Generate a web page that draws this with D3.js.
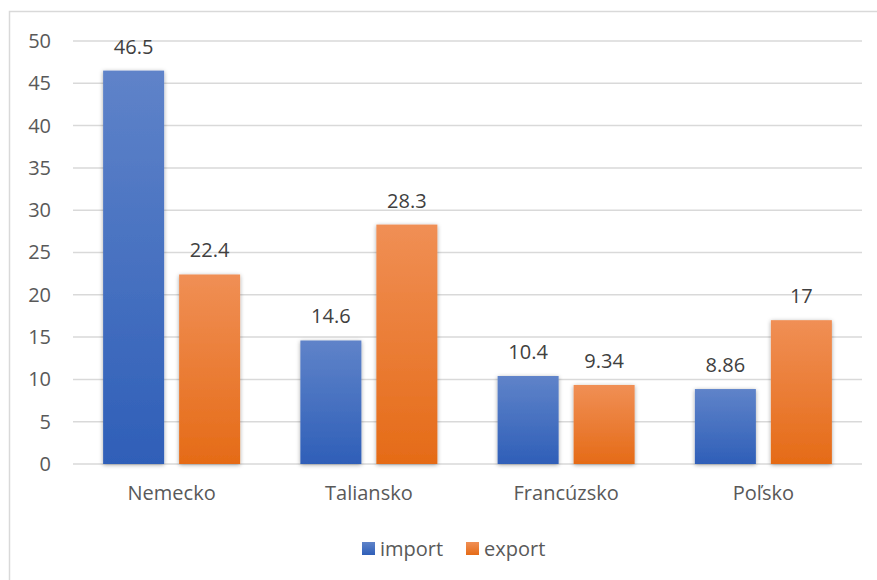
<!DOCTYPE html>
<html><head><meta charset="utf-8">
<script src="https://cdn.jsdelivr.net/npm/d3@7"></script>
<style>body{margin:0;background:#fff;} svg{display:block;font-family:"Open Sans","Liberation Sans",sans-serif;}</style>
</head><body>
<svg id="c" width="877" height="580"></svg>
<script>
const categories = ["Nemecko","Taliansko","Francúzsko","Poľsko"];
const seriesNames = ["import","export"];
const importValues = [46.5,14.6,10.4,8.86];
const exportValues = [22.4,28.3,9.34,17];
const yTicks = [0,5,10,15,20,25,30,35,40,45,50];

const FS = 20;
const svg = d3.select("#c");
const defs = svg.append("defs");
const grads = [["gImp","#5f83c9","#2f5fb8"],["gExp","#f08f55","#e56b17"]];
grads.forEach(([id,a,b])=>{
  const g = defs.append("linearGradient").attr("id",id).attr("x1",0).attr("y1",0).attr("x2",0).attr("y2",1);
  g.append("stop").attr("offset","0%").attr("stop-color",a);
  g.append("stop").attr("offset","100%").attr("stop-color",b);
});
const f = defs.append("filter").attr("id","sh").attr("x","-30%").attr("y","-10%").attr("width","160%").attr("height","130%");
f.append("feDropShadow").attr("dx",0).attr("dy",1).attr("stdDeviation",2.2).attr("flood-color","#000").attr("flood-opacity",0.35);

svg.append("rect").attr("x",9.5).attr("y",11.5).attr("width",900).attr("height",600)
  .attr("fill","none").attr("stroke","#d9d9d9").attr("stroke-width",1.5);

const x0 = d3.scaleBand().domain(categories).range([73,862]);
const y = d3.scaleLinear().domain([0,50]).range([464,41]);

svg.append("g").selectAll("line").data(yTicks).join("line")
  .attr("x1",73).attr("x2",862).attr("y1",d=>y(d)).attr("y2",d=>y(d))
  .attr("stroke","#d9d9d9").attr("stroke-width",1.5);

const yAxis = d3.axisLeft(y).tickValues(yTicks).tickSize(0).tickPadding(0);
const ga = svg.append("g").attr("transform","translate(51,0)").call(yAxis);
ga.select(".domain").remove();
ga.selectAll("text").attr("fill","#595959").attr("font-size",FS).attr("font-family","'Open Sans',sans-serif");

const bw = x0.bandwidth();
const barW = 61, inner = 15;
const off = (bw - 2*barW - inner)/2;
const xs = (k)=> k===0 ? off : off+barW+inner;
const data = categories.map((c,i)=>({c, vals:[importValues[i],exportValues[i]]}));

const groups = svg.append("g").selectAll("g").data(data).join("g")
  .attr("transform",d=>`translate(${x0(d.c)},0)`);
groups.selectAll("rect").data(d=>d.vals.map((v,k)=>({v,k}))).join("rect")
  .attr("x",d=>xs(d.k)).attr("width",barW)
  .attr("y",d=>y(d.v)).attr("height",d=>y(0)-y(d.v))
  .attr("fill",d=>d.k===0?"url(#gImp)":"url(#gExp)")
  .attr("filter","url(#sh)");
groups.selectAll("text").data(d=>d.vals.map((v,k)=>({v,k}))).join("text")
  .attr("x",d=>xs(d.k)+barW/2).attr("y",d=>y(d.v)-17)
  .attr("text-anchor","middle").attr("fill","#404040").attr("font-size",FS)
  .text(d=>String(d.v));

const xAxis = d3.axisBottom(x0).tickSize(0).tickPadding(0);
const gx = svg.append("g").attr("transform","translate(0,486)").call(xAxis);
gx.select(".domain").remove();
gx.selectAll("text").attr("fill","#595959").attr("font-size",FS).attr("font-family","'Open Sans',sans-serif").attr("dy","0.71em");

const leg = svg.append("g");
const legItems = [{n:"import",x:362,g:"url(#gImp)"},{n:"export",x:466,g:"url(#gExp)"}];
legItems.forEach(it=>{
  leg.append("rect").attr("x",it.x).attr("y",542).attr("width",13).attr("height",13).attr("fill",it.g);
  leg.append("text").attr("x",it.x+18).attr("y",556).attr("fill","#595959").attr("font-size",FS).text(it.n);
});
</script>
</body></html>
